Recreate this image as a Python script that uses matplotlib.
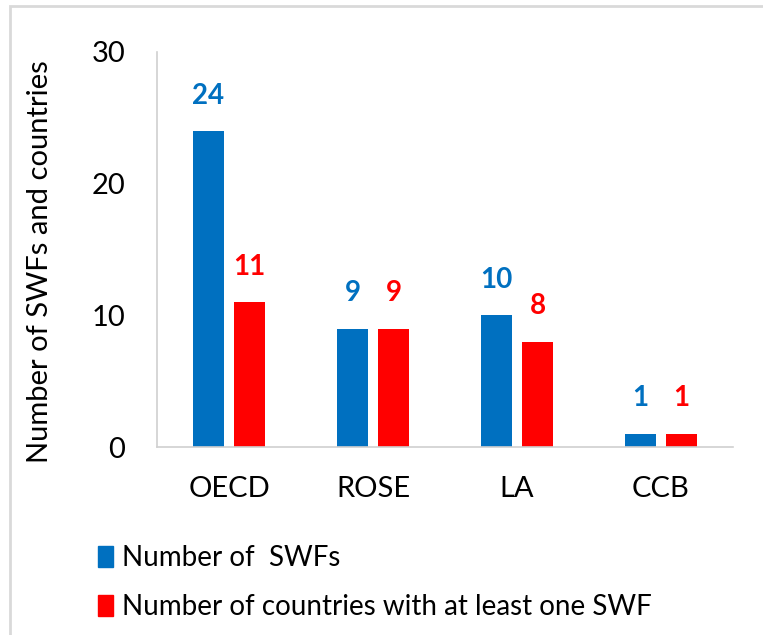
import matplotlib

matplotlib.use("Agg")

import matplotlib.pyplot as plt  # noqa: E402
import numpy as np  # noqa: E402
from matplotlib.patches import Patch, Rectangle  # noqa: E402

# ---------------------------------------------------------------------------
# Data
# ---------------------------------------------------------------------------
regions = ["OECD", "ROSE", "LA", "CCB"]
n_swfs = [24, 9, 10, 1]
n_countries = [11, 9, 8, 1]
y_ticks = [0, 10, 20, 30]

_BLUE = "#0070C0"
_RED = "#FF0000"
_GRID = "#D0D0D0"
_TEXT = "#000000"

plt.rcParams["font.family"] = ["Lato", "DejaVu Sans"]

fig = plt.figure(figsize=(7.63, 6.35), dpi=100)
ax = fig.add_axes([157 / 763, 1 - 447 / 635, (733 - 157) / 763, (447 - 52) / 635])

x = np.arange(len(regions))
width = 0.22
offset = 0.142
ax.bar(x - offset, n_swfs, width=width, color=_BLUE)
ax.bar(x + offset, n_countries, width=width, color=_RED)

for xi, v in zip(x, n_swfs):
    ax.text(xi - offset, v + 1.7, str(v), ha="center", va="bottom",
            color=_BLUE, fontsize=20, fontweight="bold")
for xi, v in zip(x, n_countries):
    ax.text(xi + offset, v + 1.7, str(v), ha="center", va="bottom",
            color=_RED, fontsize=20, fontweight="bold")

ax.set_xlim(-0.5, len(regions) - 0.5)
ax.set_ylim(0, 30)
ax.set_yticks(y_ticks)
ax.set_xticks(x)
ax.set_xticklabels(regions)
ax.tick_params(axis="both", length=0, labelsize=21, colors=_TEXT)
ax.tick_params(axis="x", pad=21)
ax.tick_params(axis="y", pad=23)
for side in ("top", "right"):
    ax.spines[side].set_visible(False)
for side in ("left", "bottom"):
    ax.spines[side].set_color(_GRID)
    ax.spines[side].set_linewidth(1.2)

fig.text(40 / 763, 1 - 262 / 635, "Number of SWFs and countries", rotation=90,
         ha="center", va="center", fontsize=21, color=_TEXT)

handles = [Patch(color=_BLUE), Patch(color=_RED)]
labels = ["Number of  SWFs", "Number of countries with at least one SWF"]
fig.legend(handles, labels, loc="upper left", bbox_to_anchor=(73 / 763, 1 - 520 / 635),
           frameon=False, fontsize=20, handlelength=0.55, handleheight=0.8,
           handletextpad=0.3, labelspacing=0.84)

# outer chart frame (only top and left edges visible in the crop)
fig.patches.append(Rectangle((10 / 763, -0.1), 1.2, 1 - 6 / 635 + 0.1,
                             transform=fig.transFigure, fill=False,
                             edgecolor="#D9D9D9", linewidth=2))

fig.savefig("out.png", dpi=100, facecolor="white")
plt.close(fig)
